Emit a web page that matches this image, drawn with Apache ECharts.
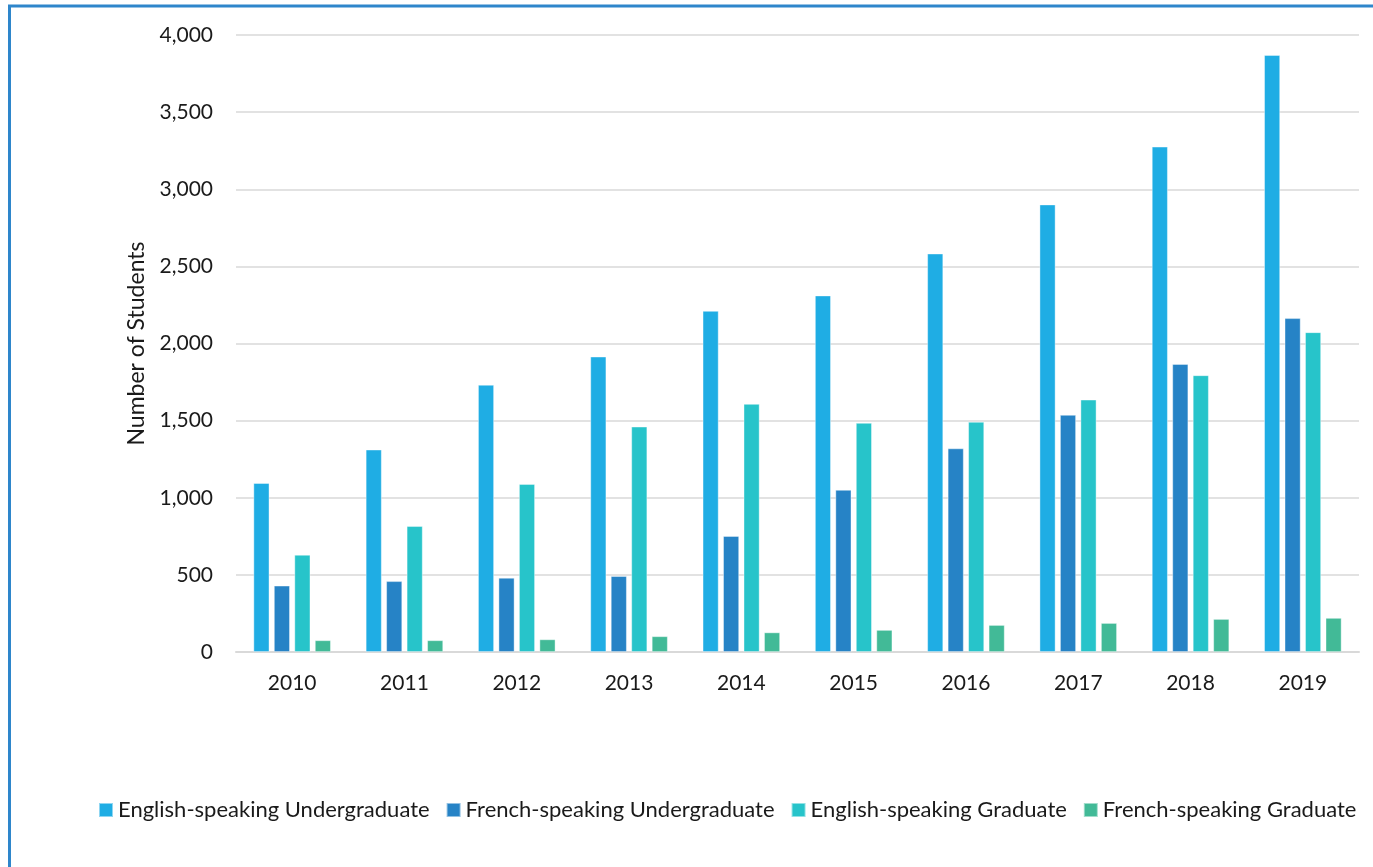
<!DOCTYPE html>
<html>
<head>
<meta charset="utf-8">
<script src="https://cdn.jsdelivr.net/npm/echarts@6/dist/echarts.min.js"></script>
<style>
html,body{margin:0;padding:0;background:#fff;}
#chart{width:1373px;height:867px;}
</style>
</head>
<body>
<div id="chart"></div>
<script>
const categories = ['2010','2011','2012','2013','2014','2015','2016','2017','2018','2019'];
const englishUndergrad = [1095, 1312, 1732, 1915, 2211, 2311, 2583, 2901, 3276, 3870];
const frenchUndergrad = [430, 459, 481, 492, 752, 1051, 1320, 1537, 1867, 2164];
const englishGrad = [630, 816, 1089, 1461, 1608, 1485, 1492, 1636, 1794, 2073];
const frenchGrad = [76, 76, 82, 102, 127, 143, 175, 188, 214, 221];
const seriesNames = ['English-speaking Undergraduate','French-speaking Undergraduate','English-speaking Graduate','French-speaking Graduate'];
const colors = ['#1fade4','#2683c6','#27c4ca','#42ba97'];

const font = 'Lato, "Open Sans", sans-serif';
const chart = echarts.init(document.getElementById('chart'), null, {renderer:'canvas'});
const dataSets = [englishUndergrad, frenchUndergrad, englishGrad, frenchGrad];
chart.setOption({
  animation:false,
  color: colors,
  graphic:[{
    type:'rect', silent:true, z:100,
    shape:{x:9.5, y:6, width:1400, height:900},
    style:{fill:'none', stroke:'#2e86cb', lineWidth:3}
  }],
  grid:{left:236, right:14, top:35, bottom:215},
  legend:{
    left:93, top:794, itemWidth:14, itemHeight:14, itemGap:16,
    icon:'rect',
    textStyle:{fontFamily:font, fontSize:22, color:'#1a1a1a'},
    data: seriesNames
  },
  xAxis:{
    type:'category', data:categories,
    axisLine:{lineStyle:{color:'#d9d9d9', width:2}},
    axisTick:{show:false},
    axisLabel:{fontFamily:font, fontSize:21, color:'#1a1a1a', margin:21}
  },
  yAxis:{
    type:'value', min:0, max:4000, interval:500,
    name:'Number of Students', nameLocation:'middle', nameGap:88,
    nameTextStyle:{fontFamily:font, fontSize:23, color:'#1a1a1a'},
    axisLine:{show:false}, axisTick:{show:false},
    axisLabel:{fontFamily:font, fontSize:21, color:'#1a1a1a', margin:23,
      formatter:v=>v.toLocaleString('en-US')},
    splitLine:{lineStyle:{color:'#d9d9d9', width:1.5}}
  },
  series: seriesNames.map((n,i)=>({
    name:n, type:'bar', data:dataSets[i],
    barWidth:16, barGap:'28%',
    itemStyle:{color:colors[i], borderColor:'rgba(255,255,255,0.5)', borderWidth:0.8}
  }))
});
</script>
</body>
</html>
